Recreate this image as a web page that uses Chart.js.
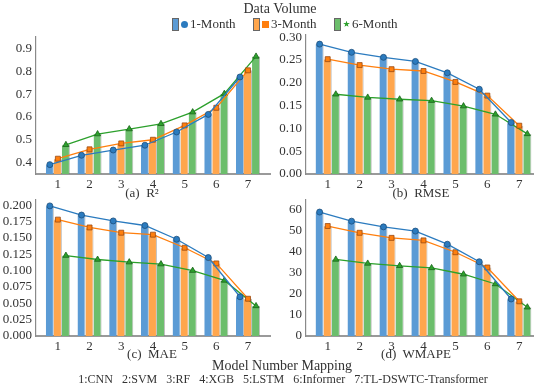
<!DOCTYPE html>
<html>
<head>
<meta charset="utf-8">
<script src="https://cdn.jsdelivr.net/npm/chart.js@4.4.1/dist/chart.umd.min.js"></script>
<style>
  body { margin: 0; background: #fff; }
  #wrap { position: relative; width: 550px; height: 387px; overflow: hidden; font-family: "Liberation Serif", serif; color: #333; }
  canvas { position: absolute; }
  .txt { position: absolute; transform: translate(-50%, -50%); white-space: pre; z-index: 2; }
  .leg { position: absolute; top: 18px; height: 12px; display: flex; align-items: center; font-size: 13px; z-index: 2; }
  .leg .bar { width: 5px; height: 11px; border: 1px solid #666; margin-right: 2px; }
  .leg .mk { width: 7px; height: 7px; margin-right: 2px; }
</style>
</head>
<body>
<div id="wrap">
  <div class="txt" style="left:280px; top:9px; font-size:14px;">Data Volume</div>
  <div class="leg" style="left:172px;"><span class="bar" style="background:#5b9bd5"></span><span class="mk" style="background:#2b7bbf;border-radius:50%"></span>1-Month</div>
  <div class="leg" style="left:253px;"><span class="bar" style="background:#ffa64d"></span><span class="mk" style="background:#ff7f0e"></span>3-Month</div>
  <div class="leg" style="left:334px;"><span class="bar" style="background:#6cbe6c"></span><span class="mk" style="background:#2ca02c;clip-path:polygon(50% 0,61% 35%,98% 35%,68% 57%,79% 91%,50% 70%,21% 91%,32% 57%,2% 35%,39% 35%)"></span>6-Month</div>

  <canvas id="cA" width="275" height="180" style="left:0;top:20px"></canvas>
  <canvas id="cB" width="280" height="180" style="left:270px;top:20px"></canvas>
  <canvas id="cC" width="275" height="175" style="left:0;top:185px"></canvas>
  <canvas id="cD" width="280" height="175" style="left:270px;top:185px"></canvas>

  <div class="txt" style="left:142px; top:193px; font-size:13px;">(a)  R²</div>
  <div class="txt" style="left:421px; top:193px; font-size:13px;">(b)  RMSE</div>
  <div class="txt" style="left:152px; top:354px; font-size:13px;">(c)  MAE</div>
  <div class="txt" style="left:416px; top:354px; font-size:13px;">(d)  WMAPE</div>
  <div class="txt" style="left:282px; top:366px; font-size:14px;">Model Number Mapping</div>
  <div class="txt" id="mapping" style="left:283px; top:379px; font-size:12px;"></div>
</div>

<script>
/* ---------- DATA ---------- */
const categories = [1, 2, 3, 4, 5, 6, 7];
const modelNames = ["CNN", "SVM", "RF", "XGB", "LSTM", "Informer", "TL-DSWTC-Transformer"];
const seriesNames = ["1-Month", "3-Month", "6-Month"];

const r2M1 = [0.391, 0.432, 0.455, 0.476, 0.534, 0.611, 0.775];
const r2M3 = [0.417, 0.458, 0.484, 0.500, 0.563, 0.640, 0.804];
const r2M6 = [0.478, 0.525, 0.547, 0.570, 0.621, 0.702, 0.865];

const rmseM1 = [0.285, 0.267, 0.256, 0.247, 0.222, 0.186, 0.113];
const rmseM3 = [0.252, 0.239, 0.230, 0.226, 0.202, 0.172, 0.106];
const rmseM6 = [0.175, 0.168, 0.164, 0.161, 0.149, 0.131, 0.088];

const maeM1 = [0.199, 0.185, 0.176, 0.169, 0.148, 0.120, 0.060];
const maeM3 = [0.178, 0.166, 0.158, 0.155, 0.135, 0.111, 0.057];
const maeM6 = [0.123, 0.117, 0.113, 0.110, 0.100, 0.085, 0.046];

const wmapeM1 = [58.6, 54.3, 51.6, 49.6, 43.4, 35.1, 17.5];
const wmapeM3 = [52.0, 48.8, 46.4, 45.2, 39.6, 32.4, 16.4];
const wmapeM6 = [36.2, 34.3, 33.2, 32.2, 29.2, 24.6, 13.6];

const r2Ticks = [0.4, 0.5, 0.6, 0.7, 0.8, 0.9];
const rmseTicks = [0, 0.05, 0.10, 0.15, 0.20, 0.25, 0.30];
const maeTicks = [0, 0.025, 0.05, 0.075, 0.10, 0.125, 0.15, 0.175, 0.20];
const wmapeTicks = [0, 10, 20, 30, 40, 50, 60];

/* ---------- STYLE ---------- */
const barColors = ["#5b9bd5", "#ffa64d", "#6cbe6c"];
const lineColors = ["#2b7bbf", "#ff7f0e", "#2ca02c"];
const markEdges = ["#1d4f7c", "#9a4a12", "#1b631b"];
const markStyles = ["circle", "rect", "triangle"];
const markSizes = [3, 3.5, 3.5];
const groupFrac = 0.76; // share of one category used by the 3 bars
const serif = "'Liberation Serif', 'Times New Roman', serif";

document.getElementById("mapping").textContent =
    modelNames.map((n, i) => categories[i] + ":" + n).join("   ");

/* ---------- PANELS ---------- */
function makePanel(canvasId, box, area, series, ticks, yMin, yMax, xMin, xMax, decimals) {
    const datasets = [];
    const step = groupFrac / series.length;

    series.forEach((vals, s) => {
        datasets.push({
            type: "bar",
            label: seriesNames[s],
            data: categories.map((c, i) => ({ x: c, y: vals[i] })),
            backgroundColor: barColors[s],
            borderColor: "rgba(110,110,110,0.45)",
            borderWidth: { top: 0.7, left: 0, right: 1, bottom: 0 },
            order: 2
        });
    });
    series.forEach((vals, s) => {
        const off = (s - (series.length - 1) / 2) * step;
        datasets.push({
            type: "line",
            label: seriesNames[s] + " line",
            data: categories.map((c, i) => ({ x: c + off, y: vals[i] })),
            borderColor: lineColors[s],
            borderWidth: 1.3,
            pointStyle: markStyles[s],
            pointRadius: markSizes[s],
            pointBackgroundColor: lineColors[s],
            pointBorderColor: markEdges[s],
            pointBorderWidth: 0.8,
            tension: 0,
            order: 0
        });
    });

    new Chart(document.getElementById(canvasId), {
        type: "bar",
        data: { datasets },
        options: {
            responsive: false,
            animation: false,
            events: [],
            layout: {
                padding: { top: area.t - box.top, right: box.left + box.w - area.r, left: 0, bottom: 0 }
            },
            datasets: {
                bar: { grouped: true, categoryPercentage: groupFrac, barPercentage: 1 }
            },
            plugins: { legend: { display: false }, tooltip: { enabled: false } },
            scales: {
                x: {
                    type: "linear",
                    offset: false,
                    min: xMin,
                    max: xMax,
                    grid: { display: false, drawTicks: false },
                    border: { display: true, color: "#9a9a9a", width: 2 },
                    afterBuildTicks: sc => { sc.ticks = categories.map(v => ({ value: v })); },
                    afterFit: sc => { sc.height = box.top + box.h - area.b; },
                    ticks: {
                        padding: 3,
                        autoSkip: false,
                        maxRotation: 0,
                        color: "#333",
                        font: { family: serif, size: 13 },
                        callback: v => String(v)
                    }
                },
                y: {
                    min: yMin,
                    max: yMax,
                    grid: { display: false, drawTicks: false },
                    border: { display: true, color: "#8a8a8a", width: 1.2 },
                    afterBuildTicks: sc => { sc.ticks = ticks.map(v => ({ value: v })); },
                    afterFit: sc => { sc.width = area.l - box.left; },
                    ticks: {
                        padding: 4,
                        autoSkip: false,
                        color: "#333",
                        font: { family: serif, size: 13 },
                        callback: v => v.toFixed(decimals)
                    }
                }
            }
        }
    });
}

makePanel("cA", { left: 0, top: 20, w: 275, h: 180 }, { l: 36, r: 272, t: 37, b: 174 },
    [r2M1, r2M3, r2M6], r2Ticks, 0.35, 0.95, 0.31, 7.7, 1);
makePanel("cB", { left: 270, top: 20, w: 280, h: 180 }, { l: 306, r: 533, t: 35, b: 174 },
    [rmseM1, rmseM3, rmseM6], rmseTicks, 0, 0.305, 0.32, 7.43, 2);
makePanel("cC", { left: 0, top: 185, w: 275, h: 175 }, { l: 36, r: 272, t: 200, b: 336 },
    [maeM1, maeM3, maeM6], maeTicks, 0, 0.208, 0.31, 7.7, 3);
makePanel("cD", { left: 270, top: 185, w: 280, h: 175 }, { l: 306, r: 533, t: 200, b: 336 },
    [wmapeM1, wmapeM3, wmapeM6], wmapeTicks, 0, 64.3, 0.32, 7.43, 0);
</script>
</body>
</html>
